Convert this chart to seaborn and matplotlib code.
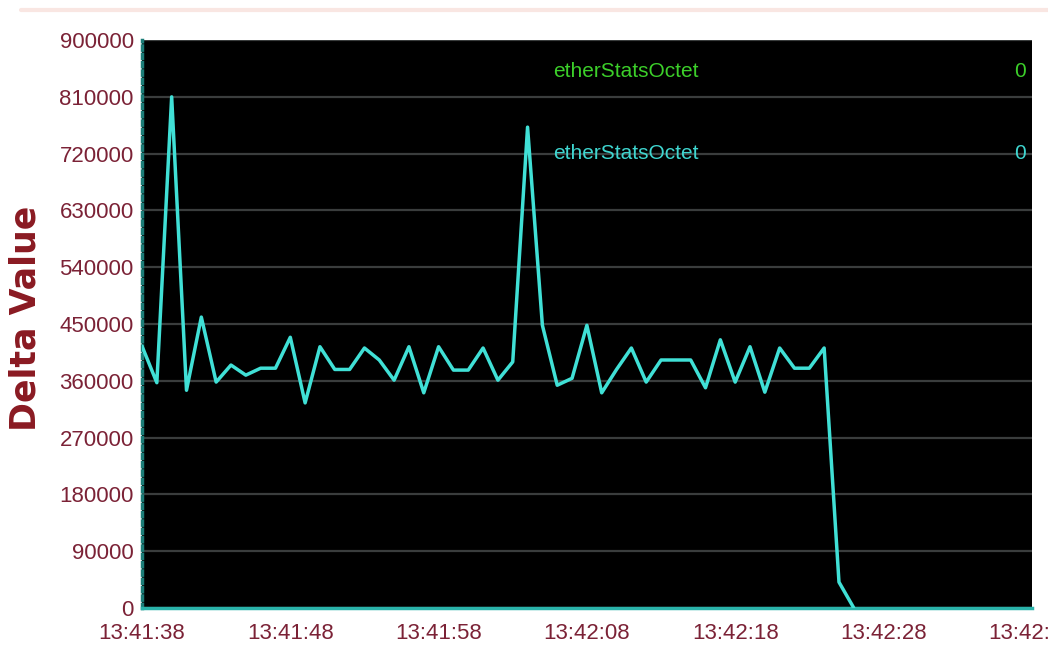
"""
Gráfico Delta Value - etherStatsOctet (recreación)
"""
import matplotlib
matplotlib.use('Agg')
import matplotlib.pyplot as plt
import seaborn as sns
import pandas as pd
from matplotlib.ticker import MultipleLocator

# segundos desde 13:41:38, una muestra por segundo
segundos = list(range(49))
delta = [415000, 357000, 810000, 345000, 461000, 358000, 385000, 369000, 380000, 380000,
         429000, 325000, 414000, 378000, 378000, 412000, 393000, 361000, 414000, 341000,
         414000, 377000, 377000, 412000, 361000, 390000, 762000, 448000, 353000, 364000,
         448000, 341000, 378000, 412000, 358000, 393000, 393000, 393000, 349000, 425000,
         358000, 414000, 342000, 412000, 380000, 380000, 412000, 41000, 0]
ticks_x = [0, 10, 20, 30, 40, 50, 60]
etiquetas_x = ['13:41:38', '13:41:48', '13:41:58', '13:42:08', '13:42:18', '13:42:28', '13:42:38']
ticks_y = [0, 90000, 180000, 270000, 360000, 450000, 540000, 630000, 720000, 810000, 900000]
series = ['etherStatsOctet', 'etherStatsOctet']
ultimos = ['0', '0']
colores_serie = ['#3ccf2a', '#3fd6d0']

ROJO = '#7b2236'
FUENTE = ['Liberation Sans', 'DejaVu Sans']


def dibujar():
    sns.set_theme(style='white')
    plt.rcParams['font.family'] = FUENTE

    fig = plt.figure(figsize=(10.48, 6.55), dpi=100)
    fig.patch.set_facecolor('white')
    ax = fig.add_axes([0.1355, 0.0718, 0.849, 0.867])
    ax.set_facecolor('black')

    df = pd.DataFrame({'t': segundos, 'delta': delta})
    sns.lineplot(data=df, x='t', y='delta', ax=ax, color='#40e0d6', linewidth=2.5, zorder=3)

    ax.set_xlim(0, 60)
    ax.set_ylim(0, 900000)
    ax.set_xticks(ticks_x)
    ax.set_xticklabels(etiquetas_x)
    ax.xaxis.set_minor_locator(MultipleLocator(5))
    ax.set_yticks(ticks_y)
    ax.set_yticklabels([str(v) for v in ticks_y])
    ax.set_xlabel('')
    ax.set_ylabel('')

    ax.grid(axis='y', color='#3a3d3d', linewidth=1.6, zorder=1)
    ax.grid(axis='x', visible=False)

    for lado in ['top', 'right']:
        ax.spines[lado].set_visible(False)
    ax.spines['left'].set_color('#1c7d78')
    ax.spines['left'].set_linewidth(2.5)
    ax.spines['left'].set_linestyle((0, (1.2, 1.2)))
    ax.spines['bottom'].set_color('#2ab3aa')
    ax.spines['bottom'].set_linewidth(2.5)

    ax.tick_params(axis='y', which='major', labelsize=16, labelcolor=ROJO,
                   color='#1f8f88', length=5, width=1.8, pad=1)
    ax.tick_params(axis='x', which='major', labelsize=16, labelcolor=ROJO,
                   color='#1f8f88', length=7, width=1.8, pad=4)
    ax.tick_params(axis='x', which='minor', color='#1f8f88', length=4, width=1.8)
    for lbl in ax.get_xticklabels() + ax.get_yticklabels():
        lbl.set_clip_on(False)

    # leyenda del propio gráfico (nombre de serie y último valor)
    for i, (nombre, ultimo, col) in enumerate(zip(series, ultimos, colores_serie)):
        y = 0.945 - i * 0.145
        ax.text(0.462, y, nombre, transform=ax.transAxes, color=col, fontsize=15,
                ha='left', va='center', zorder=4)
        ax.text(0.993, y, ultimo, transform=ax.transAxes, color=col, fontsize=15,
                ha='right', va='center', zorder=4)

    fig.text(0.024, 0.514, 'Delta Value', rotation=90, ha='center', va='center',
             fontsize=25, fontweight='bold', color='#8a1a22', family='DejaVu Sans')

    # franja rosada tenue en el borde superior
    fig.add_artist(plt.Line2D([0.02, 1.0], [0.985, 0.985], color='#f9e6e2', linewidth=3))

    fig.savefig('out.png', dpi=100, facecolor='white')


if __name__ == "__main__":
    dibujar()
